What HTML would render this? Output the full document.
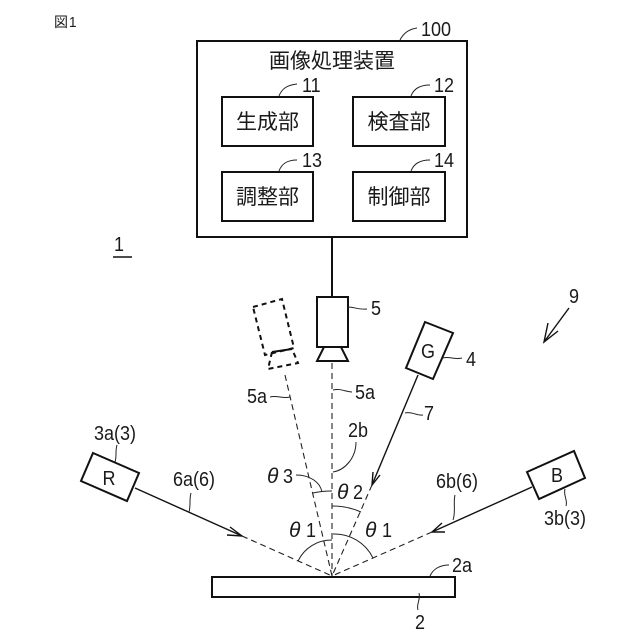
<!DOCTYPE html>
<html><head><meta charset="utf-8"><style>
html,body{margin:0;padding:0;background:#fff}
svg{display:block}
text{font-family:"Liberation Sans","Noto Sans CJK JP",sans-serif;fill:#1a1a1a}
.n{font-size:20px}
.m{font-size:20px;text-anchor:middle}
.k{font-size:21px;text-anchor:middle}
.t{font-size:21px;font-style:italic;font-family:"Liberation Sans",sans-serif}
</style></head><body>
<svg width="640" height="640" viewBox="0 0 640 640" xmlns="http://www.w3.org/2000/svg">
<rect width="640" height="640" fill="#fff"/>
<g fill="none" stroke="#111" stroke-width="2">
<rect x="197" y="41" width="270" height="196"/>
<rect x="222" y="97" width="91" height="49"/>
<rect x="353" y="97" width="92" height="49"/>
<rect x="222" y="172" width="91" height="49"/>
<rect x="353" y="172" width="92" height="49"/>
<line x1="332" y1="237" x2="332" y2="297"/>
<rect x="317" y="297" width="31" height="50"/>
<polygon points="324,347 341,347 348,361 317,361"/>
<polygon points="93,453 139,473 127,501 81,481"/>
<polygon points="527,472 574,451 585,478 539,499"/>
<polygon points="425,322 453,333 433,379 406,368"/>
<rect x="212" y="577" width="243" height="20"/>
</g>
<g fill="none" stroke="#111" stroke-width="2" stroke-dasharray="5 4">
<polygon points="253,307 282,299 294,348 265,355"/>
<polyline points="272,352 268,369 298,363 292,349"/>
</g>
<line x1="272" y1="352" x2="292" y2="349" stroke="#111" stroke-width="2"/>
<g fill="none" stroke="#111" stroke-width="1.4">
<line x1="135" y1="488" x2="242" y2="536"/>
<line x1="532" y1="487" x2="432" y2="532"/>
<line x1="418" y1="375" x2="372" y2="485"/>
<line x1="569" y1="308" x2="544" y2="342"/>
<polyline points="230,527 242,536 227,535"/>
<polyline points="442,523 432,532 445,532"/>
<polyline points="373,472 372,485 380,475"/>
<polyline points="548,323 544,342 558,331"/>
</g>
<g fill="none" stroke="#222" stroke-width="1.1" stroke-dasharray="6 4">
<line x1="242" y1="536" x2="332" y2="576"/>
<line x1="432" y1="532" x2="332" y2="576"/>
<line x1="372" y1="485" x2="332" y2="576"/>
<line x1="285" y1="375" x2="332" y2="576"/>
<line x1="332" y1="363" x2="332" y2="576"/>
</g>
<g fill="none" stroke="#222" stroke-width="1">
<path d="M298,561 A37,37 0 0 1 332,540"/>
<path d="M333,534 A43,43 0 0 1 373,558"/>
<path d="M332,506 A70,70 0 0 1 361,512"/>
<path d="M313,493 A85,85 0 0 1 332,491"/>
<path d="M296,475 C310,475 320,482 322,492"/>
<path d="M356,442 C356,458 345,470 333,472"/>
<path d="M400,40 C404,32 410,29 417,28"/>
<path d="M279,96 C282,88 288,85 297,84"/>
<path d="M411,96 C414,88 421,85 430,85"/>
<path d="M279,171 C282,163 288,160 297,160"/>
<path d="M411,171 C414,163 421,160 430,160"/>
<path d="M348,307 C354,307 360,310 367,309"/>
<path d="M333,390 C340,388 346,392 352,392"/>
<path d="M270,397 C277,395 283,399 290,397"/>
<path d="M443,358 C449,356 455,360 462,358"/>
<path d="M405,413 C411,411 417,416 423,415"/>
<path d="M115,462 C117,456 115,451 117,445"/>
<path d="M189,512 C191,505 189,500 191,493"/>
<path d="M453,520 C456,512 453,503 455,495"/>
<path d="M565,489 C563,495 568,500 566,506"/>
<path d="M430,576 C433,569 440,565 449,565"/>
<path d="M419,593 C421,599 416,604 418,610"/>
</g>
<line x1="113" y1="257" x2="132" y2="257" stroke="#111" stroke-width="1.5"/>

<text x="54" y="27" style="font-size:14px">図</text>
<text transform="translate(69,27) scale(.9,1)" style="font-size:15px">1</text>
<text transform="translate(114,251) scale(.9,1)" class="n">1</text>
<text x="332" y="68" class="k">画像処理装置</text>
<text x="267.5" y="129" class="k">生成部</text>
<text x="399" y="129" class="k">検査部</text>
<text x="267.5" y="204" class="k">調整部</text>
<text x="399" y="204" class="k">制御部</text>
<text transform="translate(421,36) scale(.9,1)" class="n">100</text>
<text transform="translate(302,92) scale(.9,1)" class="n">11</text>
<text transform="translate(434,92) scale(.9,1)" class="n">12</text>
<text transform="translate(302,167) scale(.9,1)" class="n">13</text>
<text transform="translate(434,167) scale(.9,1)" class="n">14</text>
<text transform="translate(371,315) scale(.9,1)" class="n">5</text>
<text transform="translate(355,399) scale(.9,1)" class="n">5a</text>
<text transform="translate(247,403) scale(.9,1)" class="n">5a</text>
<text transform="translate(466,366) scale(.9,1)" class="n">4</text>
<text transform="translate(428,358) scale(.9,1)" class="m">G</text>
<text transform="translate(424,420) scale(.9,1)" class="n">7</text>
<text transform="translate(348,437) scale(.9,1)" class="n">2b</text>
<text transform="translate(109,485) scale(.9,1)" class="m">R</text>
<text transform="translate(557,482) scale(.9,1)" class="m">B</text>
<text transform="translate(94,440) scale(.9,1)" class="n">3a(3)</text>
<text transform="translate(173,486) scale(.9,1)" class="n">6a(6)</text>
<text transform="translate(436,488) scale(.9,1)" class="n">6b(6)</text>
<text transform="translate(544,525) scale(.9,1)" class="n">3b(3)</text>
<text transform="translate(452,572) scale(.9,1)" class="n">2a</text>
<text transform="translate(415,629) scale(.9,1)" class="n">2</text>
<text transform="translate(569,303) scale(.9,1)" class="n">9</text>
<text x="267" y="483" class="t">θ</text><text transform="translate(283,483) scale(.9,1)" class="n">3</text>
<text x="337" y="499" class="t">θ</text><text transform="translate(353,499) scale(.9,1)" class="n">2</text>
<text x="289" y="537" class="t">θ</text><text transform="translate(306,537) scale(.9,1)" class="n">1</text>
<text x="365" y="537" class="t">θ</text><text transform="translate(382,537) scale(.9,1)" class="n">1</text>
</svg>
</body></html>
